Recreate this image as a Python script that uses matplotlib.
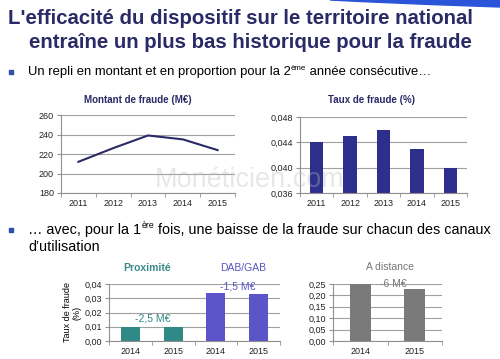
import matplotlib
matplotlib.use("Agg")
import matplotlib.pyplot as plt
from matplotlib.patches import Rectangle, Polygon
from matplotlib.ticker import FixedLocator

plt.rcParams['font.family'] = ['Liberation Sans', 'DejaVu Sans']

# ---- data ----
years = ['2011', '2012', '2013', '2014', '2015']
montant = [212, 226, 239, 235, 224]
taux = [0.044, 0.045, 0.046, 0.043, 0.040]
canal_years = ['2014', '2015']
proximite = [0.0100, 0.0095]
dab_gab = [0.034, 0.033]
a_distance = [0.250, 0.227]
montant_ticks = [180, 200, 220, 240, 260]
taux_ticks = [0.036, 0.040, 0.044, 0.048]
taux_labels = ['0,036', '0,040', '0,044', '0,048']
canal_ticks = [0.00, 0.01, 0.02, 0.03, 0.04]
canal_labels = ['0,00', '0,01', '0,02', '0,03', '0,04']
dist_ticks = [0.00, 0.05, 0.10, 0.15, 0.20, 0.25]
dist_labels = ['0,00', '0,05', '0,10', '0,15', '0,20', '0,25']

W, H = 500, 359
fig = plt.figure(figsize=(W / 100, H / 100), dpi=100)
fig.patch.set_facecolor('white')


def fx(x):
    return x / W


def fy(y):
    return 1 - y / H


def add_ax(l, t, r, b):
    return fig.add_axes([fx(l), fy(b), (r - l) / W, (b - t) / H])


NAVY = '#2A2A66'
GRID = '#A0A0A0'
TICKC = '#222222'


def style(ax, ncat):
    for s in ['top', 'right']:
        ax.spines[s].set_visible(False)
    for s in ['left', 'bottom']:
        ax.spines[s].set_color('#909090')
        ax.spines[s].set_linewidth(0.8)
    ax.grid(axis='y', color=GRID, linewidth=0.8)
    ax.set_axisbelow(True)
    ax.set_xlim(-0.5, ncat - 0.5)
    ax.xaxis.set_minor_locator(FixedLocator([i - 0.5 for i in range(ncat + 1)]))
    ax.tick_params(axis='x', which='major', length=0, labelsize=6.5, colors=TICKC, pad=4)
    ax.tick_params(axis='x', which='minor', length=3, color='#909090')
    ax.tick_params(axis='y', length=3, color='#909090', labelsize=6.5, labelcolor=TICKC, pad=2)
    ax.set_facecolor('none')


# ---- decorative swoosh ----
fig.patches.append(Polygon([[fx(330), fy(0)], [fx(500), fy(0)], [fx(500), fy(7)],
                            [fx(430), fy(4.5)], [fx(360), fy(1.5)]],
                           closed=True, transform=fig.transFigure, color='#2B55D9', zorder=0))

# ---- title ----
fig.text(fx(241), fy(19), "L'efficacité du dispositif sur le territoire national",
         ha='center', va='center', fontsize=14.7, fontweight='bold', color=NAVY)
fig.text(fx(250), fy(43), "entraîne un plus bas historique pour la fraude",
         ha='center', va='center', fontsize=14.7, fontweight='bold', color=NAVY)

renderer = fig.canvas.get_renderer()


def bullet_line(y, parts, size):
    fig.patches.append(Rectangle((fx(8.5), fy(y + 2)), 4 / W, 4 / H,
                                 transform=fig.transFigure, color='#3050B0'))
    x = 28
    for txt, sup in parts:
        if sup:
            t = fig.text(fx(x), fy(y - size * 0.4), txt, fontsize=size * 0.6, va='center', ha='left', color='black')
        else:
            t = fig.text(fx(x), fy(y), txt, fontsize=size, va='center', ha='left', color='black')
        bb = t.get_window_extent(renderer)
        x += bb.width


bullet_line(72, [("Un repli en montant et en proportion pour la 2", False), ("ème", True),
                 (" année consécutive…", False)], 9.4)
bullet_line(230, [("… avec, pour la 1", False), ("ère", True),
                  (" fois, une baisse de la fraude sur chacun des canaux", False)], 10.4)
fig.text(fx(28), fy(247), "d’utilisation", fontsize=10.4, va='center', ha='left')

# ---- chart 1: montant ----
ax1 = add_ax(61, 115, 235, 193)
xs = range(len(years))
ax1.plot(list(xs), montant, color=NAVY, linewidth=1.5)
ax1.set_ylim(180, 260)
ax1.set_yticks(montant_ticks)
ax1.set_xticks(list(xs))
ax1.set_xticklabels(years)
style(ax1, len(years))
fig.text(fx(138), fy(100), "Montant de fraude (M€)", ha='center', va='center',
         fontsize=7, fontweight='bold', color=NAVY)

# ---- chart 2: taux ----
ax2 = add_ax(300, 117, 467, 193)
ax2.bar(list(xs), taux, width=0.4, color='#2E2E8C')
ax2.set_ylim(0.036, 0.048)
ax2.set_yticks(taux_ticks)
ax2.set_yticklabels(taux_labels)
ax2.set_xticks(list(xs))
ax2.set_xticklabels(years)
style(ax2, len(years))
fig.text(fx(372), fy(100), "Taux de fraude (%)", ha='center', va='center',
         fontsize=7, fontweight='bold', color=NAVY)

# ---- chart 3: proximité / DAB-GAB ----
ax3 = add_ax(109, 284, 280, 341)
ax3.bar([0, 1], proximite, width=0.44, color='#2F8987')
ax3.bar([2, 3], dab_gab, width=0.44, color='#5B55C9')
ax3.set_ylim(0, 0.04)
ax3.set_yticks(canal_ticks)
ax3.set_yticklabels(canal_labels)
ax3.set_xticks([0, 1, 2, 3])
ax3.set_xticklabels(canal_years + canal_years)
style(ax3, 4)
ax3.set_ylabel("Taux de fraude\n(%)", fontsize=6.5, labelpad=2, linespacing=1.1)
ax3.text(0.53, 0.0161, "-2,5 M€", ha='center', va='center', fontsize=7.5, color='#2F8987')
ax3.text(2.52, 0.0379, "-1,5 M€", ha='center', va='center', fontsize=7.5, color='#5B55C9')
fig.text(fx(147), fy(268), "Proximité", ha='center', va='center', fontsize=7.5,
         fontweight='bold', color='#3A8A88')
fig.text(fx(243), fy(268), "DAB/GAB", ha='center', va='center', fontsize=7.5, color='#5A55C0')

# ---- chart 4: à distance ----
ax4 = add_ax(333, 284, 442, 341)
ax4.bar([0, 1], a_distance, width=0.39, color='#7A7A7A')
ax4.set_ylim(0, 0.25)
ax4.set_yticks(dist_ticks)
ax4.set_yticklabels(dist_labels)
ax4.set_xticks([0, 1])
ax4.set_xticklabels(canal_years)
style(ax4, 2)
ax4.text(0.6, 0.25, "-6 M€", ha='center', va='center', fontsize=7.5, color='#777777')
fig.text(fx(390), fy(267), "A distance", ha='center', va='center', fontsize=7.5, color='#777777')

# ---- watermark ----
fig.text(fx(250), fy(180), "Monéticien.com", ha='center', va='center', fontsize=19.5,
         color='#BBBBBB', alpha=0.35, zorder=10)

fig.savefig("out.png", dpi=100)
